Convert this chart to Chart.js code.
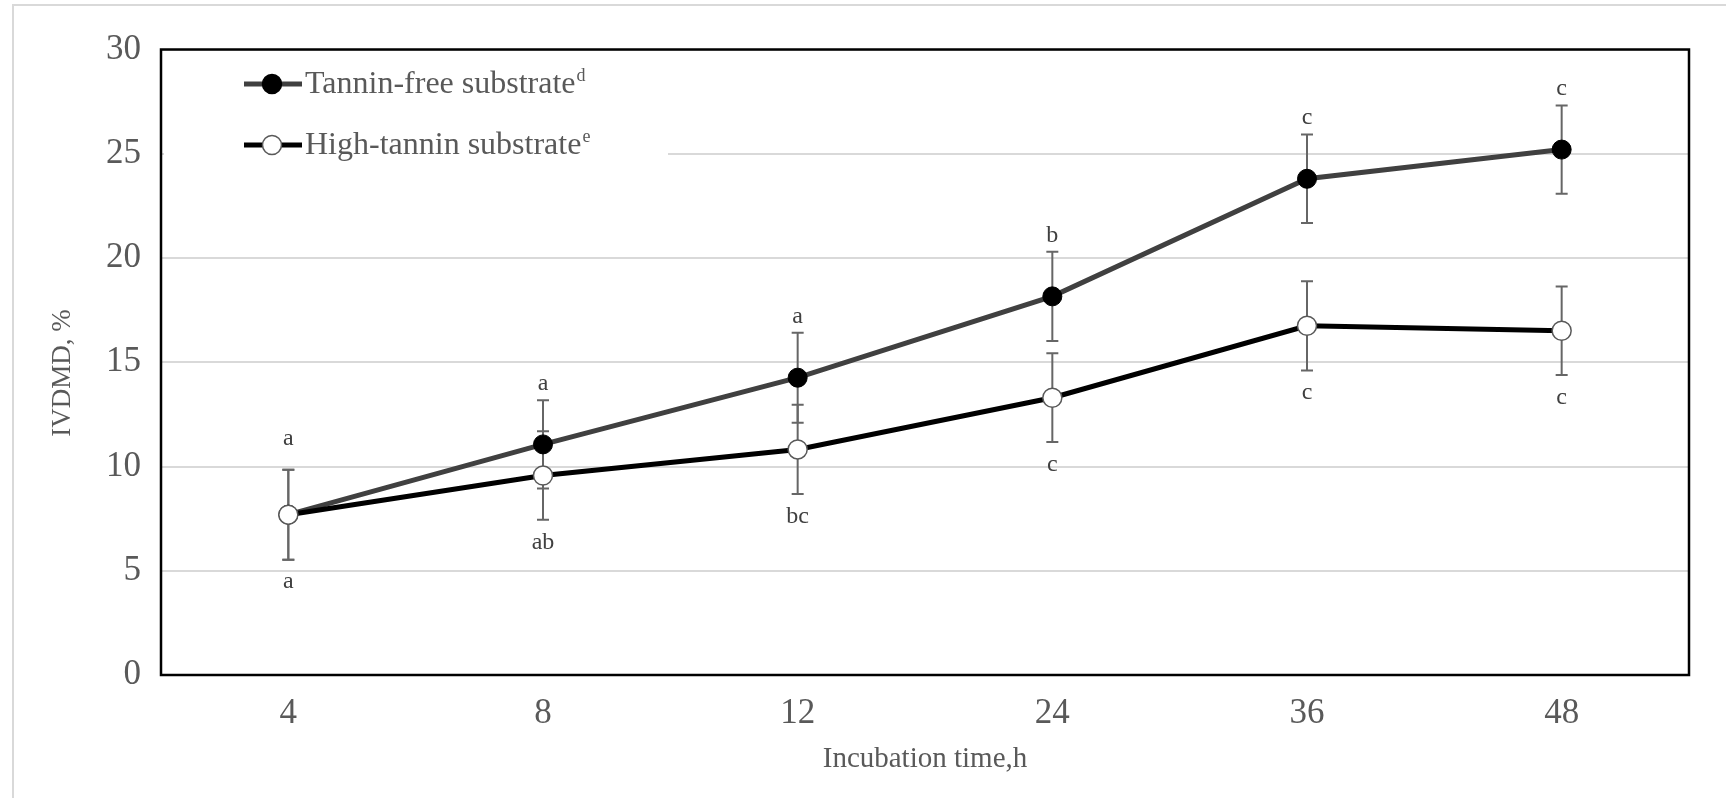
<!DOCTYPE html>
<html>
<head>
<meta charset="utf-8">
<script src="https://cdn.jsdelivr.net/npm/chart.js@4.4.1/dist/chart.umd.min.js"></script>
<style>
  html, body { margin: 0; padding: 0; background: #fff; overflow: hidden; }
  canvas { display: block; }
</style>
</head>
<body>
<canvas id="chart" width="1726" height="798"></canvas>
<script>
// Incubation times (h) on the category axis
const times = ['4', '8', '12', '24', '36', '48'];

// In vitro dry matter digestibility (IVDMD, %) for each substrate
const tanninFree = [7.69, 11.06, 14.26, 18.16, 23.80, 25.20];
const highTannin = [7.69, 9.57, 10.82, 13.30, 16.75, 16.51];

// Standard errors for the error bars
const tanninFreeErr = [2.16, 2.12, 2.16, 2.14, 2.12, 2.12];
const highTanninErr = [2.16, 2.12, 2.14, 2.13, 2.14, 2.12];

// Significance letters (above tannin-free, below high-tannin)
const tanninFreeLetters = ['a', 'a', 'a', 'b', 'c', 'c'];
const highTanninLetters = ['a', 'ab', 'bc', 'c', 'c', 'c'];

// Y axis range and step
const yMin = 0, yMax = 30, yStep = 5;

const SERIF = "'Liberation Serif', 'Times New Roman', serif";
const TEXT_GREY = '#595959';

// Light grey outer frame of the figure
const framePlugin = {
  id: 'frame',
  beforeDraw(chart) {
    const ctx = chart.ctx;
    ctx.save();
    ctx.fillStyle = '#fff';
    ctx.fillRect(0, 0, chart.width, chart.height);
    ctx.strokeStyle = '#d9d9d9';
    ctx.lineWidth = 2;
    ctx.beginPath();
    ctx.moveTo(13, chart.height);
    ctx.lineTo(13, 5);
    ctx.lineTo(chart.width, 5);
    ctx.stroke();
    ctx.restore();
  }
};

// Vertical error bars with caps, drawn under the lines and markers
const errorBarPlugin = {
  id: 'errorBars',
  beforeDatasetsDraw(chart) {
    const ctx = chart.ctx;
    const xs = chart.scales.x, ys = chart.scales.y;
    const sets = [[tanninFree, tanninFreeErr], [highTannin, highTanninErr]];
    ctx.save();
    ctx.strokeStyle = '#666666';
    ctx.lineWidth = 2;
    const cap = 6;
    sets.forEach(([vals, errs]) => {
      vals.forEach((v, i) => {
        const x = xs.getPixelForValue(i);
        const yt = ys.getPixelForValue(v + errs[i]);
        const yb = ys.getPixelForValue(v - errs[i]);
        ctx.beginPath();
        ctx.moveTo(x, yt); ctx.lineTo(x, yb);
        ctx.moveTo(x - cap, yt); ctx.lineTo(x + cap, yt);
        ctx.moveTo(x - cap, yb); ctx.lineTo(x + cap, yb);
        ctx.stroke();
      });
    });
    ctx.restore();
  }
};

// Letters marking significant differences between incubation times
const letterPlugin = {
  id: 'letters',
  afterDatasetsDraw(chart) {
    const ctx = chart.ctx;
    const xs = chart.scales.x, ys = chart.scales.y;
    ctx.save();
    ctx.fillStyle = '#404040';
    ctx.font = '24px ' + SERIF;
    ctx.textAlign = 'center';
    ctx.textBaseline = 'middle';
    tanninFree.forEach((v, i) => {
      const x = xs.getPixelForValue(i);
      const lift = i === 0 ? 76 : 61;
      ctx.fillText(tanninFreeLetters[i], x, ys.getPixelForValue(v) - lift);
    });
    highTannin.forEach((v, i) => {
      const x = xs.getPixelForValue(i);
      ctx.fillText(highTanninLetters[i], x, ys.getPixelForValue(v) + 67);
    });
    ctx.restore();
  }
};

// Legend with line-and-marker swatches on a white box
const legendPlugin = {
  id: 'lineLegend',
  afterDatasetsDraw(chart) {
    const ctx = chart.ctx;
    const items = [
      { y: 84, line: '#404040', fill: '#000', edge: '#000', text: 'Tannin-free substrate', sup: 'd' },
      { y: 145, line: '#000', fill: '#fff', edge: '#595959', text: 'High-tannin substrate', sup: 'e' }
    ];
    ctx.save();
    ctx.fillStyle = '#fff';
    ctx.fillRect(164, 52, 504, 122);
    items.forEach(it => {
      ctx.strokeStyle = it.line;
      ctx.lineWidth = 5;
      ctx.beginPath();
      ctx.moveTo(244, it.y); ctx.lineTo(302, it.y);
      ctx.stroke();
      ctx.beginPath();
      ctx.arc(272, it.y, 9.5, 0, Math.PI * 2);
      ctx.fillStyle = it.fill;
      ctx.fill();
      ctx.lineWidth = 1.5;
      ctx.strokeStyle = it.edge;
      ctx.stroke();
      ctx.fillStyle = TEXT_GREY;
      ctx.textAlign = 'left';
      ctx.textBaseline = 'middle';
      ctx.font = '32px ' + SERIF;
      ctx.fillText(it.text, 305, it.y + 1);
      const w = ctx.measureText(it.text).width;
      ctx.font = '18px ' + SERIF;
      ctx.fillText(it.sup, 305 + w + 1, it.y - 8);
    });
    ctx.restore();
  }
};

// Rotated y-axis title, set slightly below the plot's vertical middle
const yTitlePlugin = {
  id: 'yTitle',
  afterDraw(chart) {
    const ctx = chart.ctx;
    ctx.save();
    ctx.translate(63, 373);
    ctx.rotate(-Math.PI / 2);
    ctx.fillStyle = TEXT_GREY;
    ctx.font = '27px ' + SERIF;
    ctx.textAlign = 'center';
    ctx.textBaseline = 'middle';
    ctx.fillText('IVDMD, %', 0, 0);
    ctx.restore();
  }
};

// Black box around the plot area
const boxPlugin = {
  id: 'plotBox',
  afterDraw(chart) {
    const a = chart.chartArea;
    const ctx = chart.ctx;
    ctx.save();
    ctx.strokeStyle = '#000';
    ctx.lineWidth = 2.5;
    ctx.strokeRect(a.left, a.top, a.right - a.left, a.bottom - a.top);
    ctx.restore();
  }
};

new Chart(document.getElementById('chart'), {
  type: 'line',
  data: {
    labels: times,
    datasets: [
      {
        label: 'Tannin-free substrate',
        data: tanninFree,
        borderColor: '#404040',
        borderWidth: 5,
        pointRadius: 9.5,
        pointBackgroundColor: '#000',
        pointBorderColor: '#000',
        pointBorderWidth: 1,
        tension: 0,
        order: 2
      },
      {
        label: 'High-tannin substrate',
        data: highTannin,
        borderColor: '#000',
        borderWidth: 5,
        pointRadius: 9.5,
        pointBackgroundColor: '#fff',
        pointBorderColor: '#595959',
        pointBorderWidth: 1.5,
        tension: 0,
        order: 1
      }
    ]
  },
  options: {
    responsive: false,
    animation: false,
    devicePixelRatio: 1,
    layout: { padding: { left: 0, right: 37, top: 49.5, bottom: 0 } },
    plugins: { legend: { display: false }, tooltip: { enabled: false } },
    scales: {
      x: {
        type: 'category',
        offset: true,
        grid: { display: false, drawTicks: false },
        border: { display: false },
        ticks: { color: TEXT_GREY, font: { family: SERIF, size: 35 }, padding: 18 },
        title: {
          display: true,
          text: 'Incubation time,h',
          color: TEXT_GREY,
          font: { family: SERIF, size: 29 },
          padding: { top: 0, bottom: 21 }
        },
        afterFit(s) { s.height = 123; }
      },
      y: {
        min: yMin,
        max: yMax,
        grid: { color: '#d9d9d9', lineWidth: 2, drawTicks: false },
        border: { display: false },
        ticks: { stepSize: yStep, color: TEXT_GREY, font: { family: SERIF, size: 35 }, padding: 20 },
        title: { display: false },
        afterFit(s) { s.width = 161; }
      }
    }
  },
  plugins: [framePlugin, errorBarPlugin, letterPlugin, legendPlugin, yTitlePlugin, boxPlugin]
});
</script>
</body>
</html>
